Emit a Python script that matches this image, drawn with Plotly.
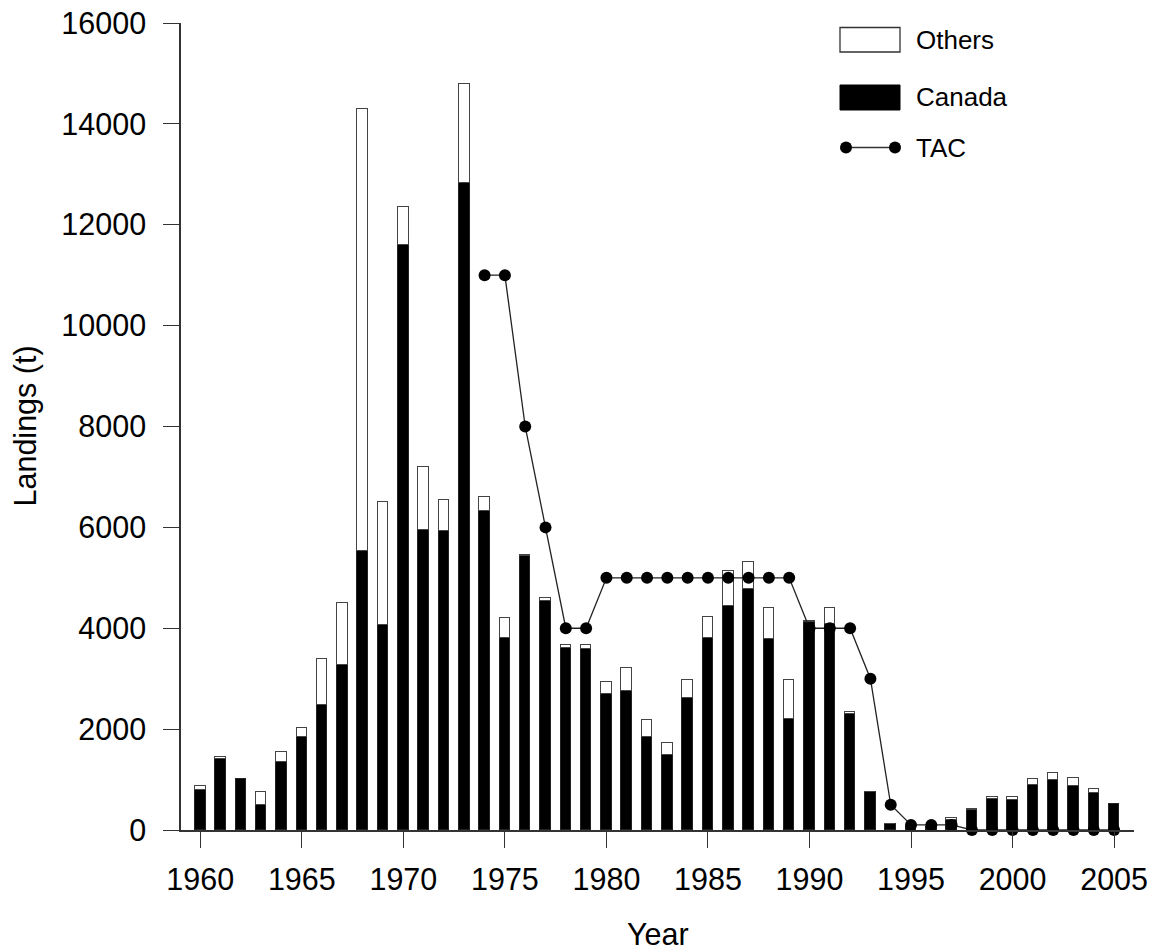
import plotly.graph_objects as go

years = list(range(1960, 2006))
canada = [800, 1400, 1020, 500, 1340, 1840, 2480, 3270, 5530, 4060,
          11600, 5950, 5920, 12830, 6320, 3800, 5430, 4550, 3610, 3580,
          2700, 2750, 1850, 1490, 2610, 3800, 4450, 4780, 3780, 2200,
          4130, 4080, 2300, 750, 120, 60, 60, 200, 390, 610,
          590, 890, 1000, 880, 730, 510]
others = [80, 50, 0, 245, 200, 185, 920, 1225, 8770, 2440,
          750, 1245, 630, 1960, 280, 410, 25, 50, 50, 85,
          240, 470, 335, 230, 355, 420, 680, 540, 620, 765,
          10, 320, 30, 5, 5, 0, 0, 45, 30, 45,
          65, 120, 130, 160, 85, 0]
tac_years = list(range(1974, 2006))
tac = [11000, 11000, 8000, 6000, 4000, 4000,
       5000, 5000, 5000, 5000, 5000, 5000, 5000, 5000, 5000, 5000,
       4000, 4000, 4000, 3000, 500, 100, 100, 100,
       0, 0, 0, 0, 0, 0, 0, 0]
xticks = [1960, 1965, 1970, 1975, 1980, 1985, 1990, 1995, 2000, 2005]
yticks = [0, 2000, 4000, 6000, 8000, 10000, 12000, 14000, 16000]
ytick_labels = ["0", "2000", "4000", "6000", "8000", "10000", "12000", "14000", "16000"]

FONT = "Liberation Sans, Arial, sans-serif"
W, H = 1157, 952
L, R, T, B = 181, 23, 23, 122
PW, PH = W - L - R, H - T - B

def px(xp):
    return (xp - L) / PW

def py(yp):
    return (H - B - yp) / PH

fig = go.Figure()
fig.add_trace(go.Bar(x=years, y=canada, width=0.52, name="Canada",
                     marker=dict(color="black", line=dict(color="#222", width=1))))
fig.add_trace(go.Bar(x=years, y=[v if v > 0 else None for v in others], width=0.52, name="Others",
                     marker=dict(color="white", line=dict(color="#444", width=1.2))))
fig.add_trace(go.Scatter(x=tac_years, y=tac, mode="lines+markers", name="TAC",
                         line=dict(color="#222", width=1.3),
                         marker=dict(color="black", size=12), cliponaxis=False))

axis_common = dict(showline=True, linecolor="#333", linewidth=1.5, ticks="outside",
                   ticklen=16, tickwidth=1.3, tickcolor="#333", showgrid=False, zeroline=False,
                   automargin=False,
                   tickfont=dict(family=FONT, size=30.5, color="black"))
fig.update_xaxes(range=[1959.05, 2005.98], tickvals=xticks, ticklabelstandoff=6, **axis_common)
fig.update_yaxes(range=[0, 16000], tickvals=yticks, ticktext=ytick_labels,
                 ticklabelstandoff=11, **axis_common)

shapes = [
    dict(type="rect", xref="paper", yref="paper", x0=px(840), x1=px(900), y0=py(52), y1=py(27.5),
         fillcolor="white", line=dict(color="#333", width=1.3)),
    dict(type="rect", xref="paper", yref="paper", x0=px(840), x1=px(900), y0=py(110), y1=py(85),
         fillcolor="black", line=dict(color="black", width=1)),
    dict(type="line", xref="paper", yref="paper", x0=px(846), x1=px(895), y0=py(147.5), y1=py(147.5),
         line=dict(color="#333", width=1.3)),
    dict(type="circle", xref="paper", yref="paper", x0=px(840), x1=px(852), y0=py(153.5), y1=py(141.5),
         fillcolor="black", line=dict(color="black", width=0)),
    dict(type="circle", xref="paper", yref="paper", x0=px(889), x1=px(901), y0=py(153.5), y1=py(141.5),
         fillcolor="black", line=dict(color="black", width=0)),
]
annotations = [
    dict(text="Others", x=px(914), y=py(40), xref="paper", yref="paper", xanchor="left", yanchor="middle",
         showarrow=False, font=dict(family=FONT, size=26, color="black")),
    dict(text="Canada", x=px(914), y=py(97.5), xref="paper", yref="paper", xanchor="left", yanchor="middle",
         showarrow=False, font=dict(family=FONT, size=26, color="black")),
    dict(text="TAC", x=px(914), y=py(147.5), xref="paper", yref="paper", xanchor="left", yanchor="middle",
         showarrow=False, font=dict(family=FONT, size=26, color="black")),
    dict(text="Year", x=0.5, y=py(934), xref="paper", yref="paper", xanchor="center", yanchor="middle",
         showarrow=False, font=dict(family=FONT, size=30.5, color="black")),
    dict(text="Landings (t)", x=px(25), y=0.5, xref="paper", yref="paper", xanchor="center", yanchor="middle",
         textangle=-90, showarrow=False, font=dict(family=FONT, size=30.5, color="black")),
]

fig.update_layout(width=W, height=H, margin=dict(l=L, r=R, t=T, b=B, autoexpand=False),
                  barmode="stack", bargap=0, showlegend=False,
                  plot_bgcolor="white", paper_bgcolor="white",
                  shapes=shapes, annotations=annotations,
                  font=dict(family=FONT))
fig.write_html("out.html")
